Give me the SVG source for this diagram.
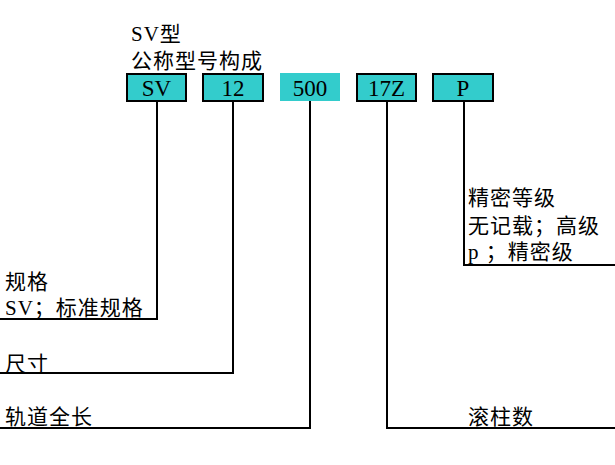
<svg xmlns="http://www.w3.org/2000/svg" width="615" height="465" viewBox="0 0 615 465">
<style>
.t{font-family:"Liberation Serif","Noto Sans CJK SC",serif;font-size:21px;fill:#000;letter-spacing:1px}
.b{font-family:"Liberation Serif","Noto Sans CJK SC",serif;font-size:23px;fill:#000;text-anchor:middle}
.box{fill:#33CCCC;stroke:#000;stroke-width:2}
.ln{fill:none;stroke:#000;stroke-width:2}
</style>
<rect width="615" height="465" fill="#fff"/>
<g id="title">
<text class="t" x="131" y="41">SV型</text>
<text class="t" x="131" y="68">公称型号构成</text>
</g>
<g id="connectors">
<polyline class="ln" points="157,101 157,319 0,319"/>
<polyline class="ln" points="233,101 233,373 0,373"/>
<polyline class="ln" points="310,101 310,428 0,428" stroke-width="2.5"/>
<polyline class="ln" points="387,101 387,428 615,428"/>
<polyline class="ln" points="464,101 464,265 615,265" stroke-width="1.5"/>
</g>
<g id="node-sv">
<rect class="box" x="127" y="74" width="59" height="27"/>
<text class="b" x="156.5" y="96">SV</text>
</g>
<g id="node-12">
<rect class="box" x="203" y="74" width="60" height="27"/>
<text class="b" x="233" y="96">12</text>
</g>
<g id="node-500">
<rect x="280" y="73" width="60" height="28" fill="#33CCCC"/>
<text class="b" x="310" y="96">500</text>
</g>
<g id="node-17z">
<rect class="box" x="357" y="74" width="59" height="27"/>
<text class="b" x="386.5" y="96">17Z</text>
</g>
<g id="node-p">
<rect class="box" x="433" y="74" width="60" height="27"/>
<text class="b" x="463" y="96">P</text>
</g>
<g id="label-spec">
<text class="t" x="5" y="289">规格</text>
<text class="t" x="5" y="315">SV；标准规格</text>
</g>
<g id="label-size">
<text class="t" x="5" y="371">尺寸</text>
</g>
<g id="label-length">
<text class="t" x="5" y="424">轨道全长</text>
</g>
<g id="label-rollers">
<text class="t" x="468" y="424">滚柱数</text>
</g>
<g id="label-precision">
<text class="t" x="468" y="205">精密等级</text>
<text class="t" x="468" y="233">无记载；高级</text>
<text class="t" x="468" y="259">p ；精密级</text>
</g>
</svg>
